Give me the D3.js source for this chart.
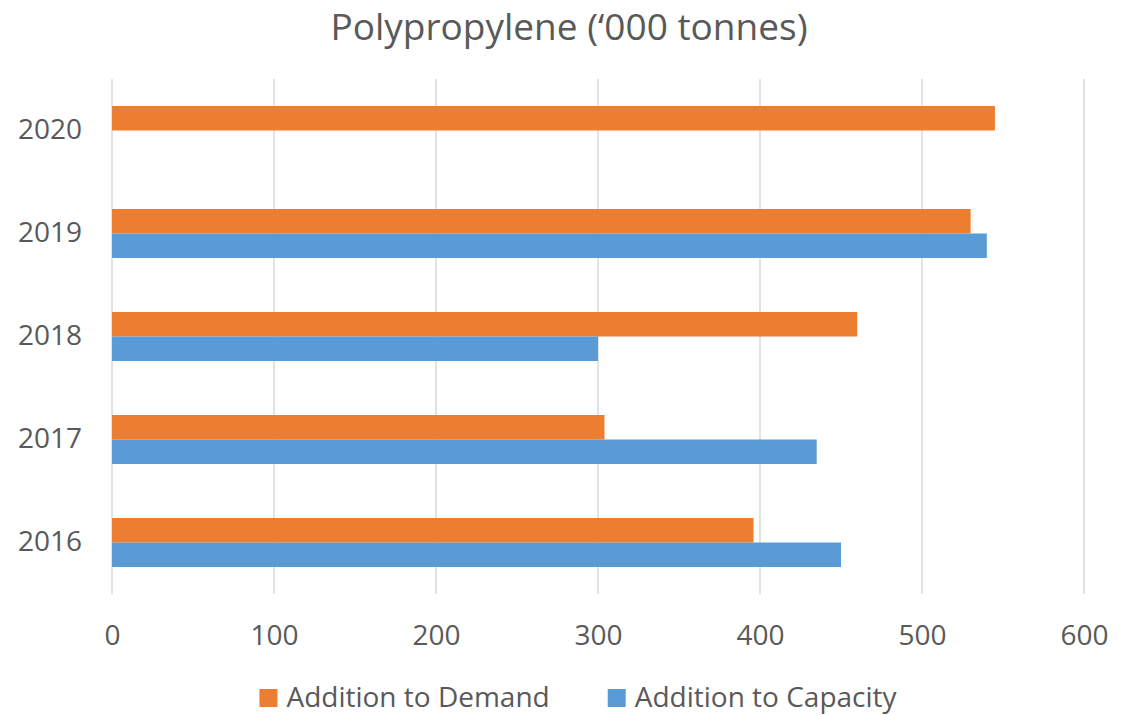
<!DOCTYPE html>
<html>
<head>
<meta charset="utf-8">
<script src="https://cdn.jsdelivr.net/npm/d3@7"></script>
<style>
  body { margin: 0; background: #fff; }
  svg { font-family: "Open Sans", sans-serif; }
</style>
</head>
<body>
<div id="chart"></div>
<script>
// chart values
var years = ["2020", "2019", "2018", "2017", "2016"];
var seriesNames = ["Addition to Demand", "Addition to Capacity"];
var demand = [545, 530, 460, 304, 396];
var capacity = [null, 540, 300, 435, 450];
var xTicks = [0, 100, 200, 300, 400, 500, 600];
var colors = ["#ED7D31", "#5B9BD5"];

var w = 1134;
var h = 715;
var margin = {top: 79, right: 50, bottom: 121, left: 112};
var innerW = w - margin.left - margin.right;
var innerH = h - margin.top - margin.bottom;
var textColor = "#595959";

var svg = d3.select("#chart")
    .append("svg")
    .attr("width", w)
    .attr("height", h);

// title
svg.append("text")
    .attr("x", 569)
    .attr("y", 40)
    .attr("text-anchor", "middle")
    .attr("font-size", 37)
    .attr("fill", textColor)
    .text("Polypropylene (\u2018000 tonnes)");

var g = svg.append("g")
    .attr("transform", "translate(" + margin.left + "," + margin.top + ")");

var xScale = d3.scaleLinear()
    .domain([0, 600])
    .range([0, innerW]);

var yScale = d3.scaleBand()
    .domain(years)
    .range([0, innerH])
    .paddingInner(0.524)
    .paddingOuter(0.262);

var ySub = d3.scaleBand()
    .domain(seriesNames)
    .range([0, yScale.bandwidth()]);

// vertical gridlines
g.selectAll("line.grid")
    .data(xTicks)
    .enter()
    .append("line")
    .attr("class", "grid")
    .attr("x1", function(d) { return xScale(d); })
    .attr("x2", function(d) { return xScale(d); })
    .attr("y1", 0)
    .attr("y2", innerH)
    .attr("stroke", "#d9d9d9")
    .attr("stroke-width", 1.5);

// bars
var rows = years.map(function(y, i) {
    return [
        {year: y, s: seriesNames[0], v: demand[i], c: colors[0]},
        {year: y, s: seriesNames[1], v: capacity[i], c: colors[1]}
    ];
});

g.selectAll("g.row")
    .data(rows)
    .enter()
    .append("g")
    .attr("class", "row")
    .attr("transform", function(d) { return "translate(0," + yScale(d[0].year) + ")"; })
    .selectAll("rect")
    .data(function(d) { return d.filter(function(e) { return e.v != null; }); })
    .enter()
    .append("rect")
    .attr("x", xScale(0))
    .attr("y", function(d) { return ySub(d.s); })
    .attr("width", function(d) { return xScale(d.v) - xScale(0); })
    .attr("height", ySub.bandwidth())
    .attr("fill", function(d) { return d.c; });

// x axis labels
var xAxis = d3.axisBottom(xScale)
    .tickValues(xTicks)
    .tickSize(0)
    .tickPadding(31);

g.append("g")
    .attr("transform", "translate(0," + innerH + ")")
    .call(xAxis)
    .call(function(a) { a.select(".domain").remove(); })
    .selectAll("text")
    .attr("font-size", 28)
    .attr("font-family", "Open Sans, sans-serif")
    .attr("fill", textColor);

// y axis labels
var yAxis = d3.axisLeft(yScale)
    .tickSize(0)
    .tickPadding(30);

g.append("g")
    .call(yAxis)
    .call(function(a) { a.select(".domain").remove(); })
    .selectAll("text")
    .attr("font-size", 28)
    .attr("font-family", "Open Sans, sans-serif")
    .attr("fill", textColor);

// legend
var legend = svg.append("g");
var items = legend.selectAll("g.item")
    .data(seriesNames)
    .enter()
    .append("g")
    .attr("class", "item");

items.append("rect")
    .attr("width", 18)
    .attr("height", 18)
    .attr("y", 689)
    .attr("fill", function(d, i) { return colors[i]; });

items.append("text")
    .attr("x", 27)
    .attr("y", 707)
    .attr("font-size", 28)
    .attr("fill", textColor)
    .text(function(d) { return d; });

var xPos = 0;
var gap = 58;
items.each(function() {
    var item = d3.select(this);
    item.attr("transform", "translate(" + xPos + ",0)");
    xPos += 27 + item.select("text").node().getComputedTextLength() + gap;
});
var totalW = xPos - gap;
legend.attr("transform", "translate(" + (578 - totalW / 2) + ",0)");
</script>
</body>
</html>
